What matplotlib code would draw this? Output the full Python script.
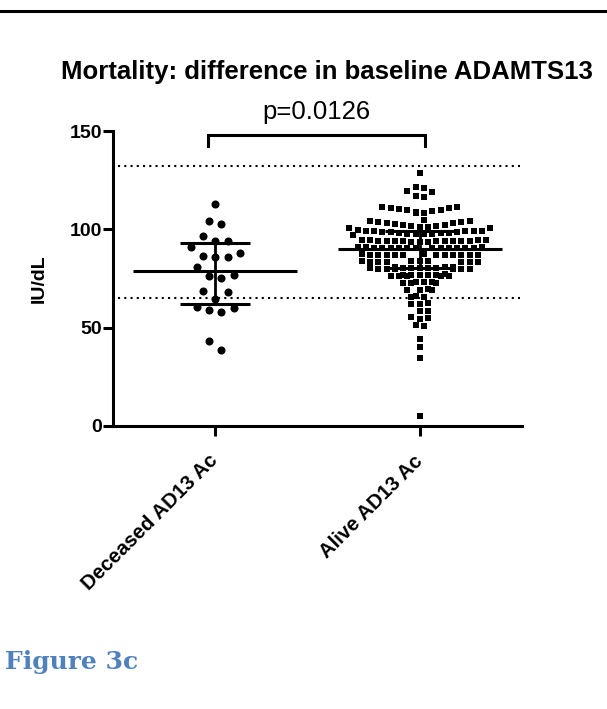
import numpy as np
import matplotlib
matplotlib.use("Agg")
import matplotlib.pyplot as plt
from matplotlib.lines import Line2D

W, H = 607, 709

groups = ["Deceased AD13 Ac", "Alive AD13 Ac"]

# ADAMTS13 activity, IU/dL
deceased = [112.9, 104.4, 102.7, 96.8, 94.2, 94.2, 91.2, 87.8, 86.4, 86.1,
            85.8, 81.0, 76.8, 76.3, 75.1, 68.8, 68.3, 64.7, 60.3, 59.8,
            59.0, 58.0, 43.4, 38.6]

alive = [128.5,
         121.3, 121.0,
         119.6, 118.8, 117.1, 116.3,
         111.6, 111.4, 111.1, 110.9, 110.4, 110.0, 109.6, 109.2, 108.8, 108.5, 108.2,
         104.7,
         104.2, 104.0, 103.8, 103.5, 103.2, 103.0, 102.7, 102.4, 102.1, 101.8,
         101.5, 101.3, 101.1, 100.9, 100.8,
         99.5, 99.4, 99.3, 99.2, 99.0, 98.9, 98.7, 98.5, 98.4, 98.2, 98.0, 97.9,
         97.7, 97.6, 97.5, 97.4, 97.3,
         94.6, 94.5, 94.5, 94.4, 94.3, 94.3, 94.2, 94.1, 94.1, 94.0, 94.0, 93.9,
         93.9, 93.8, 93.8, 93.8,
         90.9, 90.8, 90.8, 90.7, 90.6, 90.6, 90.5, 90.5, 90.4, 90.4, 90.4, 90.3,
         90.3, 90.3, 90.3,
         87.4, 87.3, 87.2, 87.2, 87.1, 87.0, 87.0, 86.9, 86.9, 86.9, 86.8, 86.8, 86.8,
         84.0, 83.9, 83.8, 83.7, 83.6, 83.5, 83.4, 83.4, 83.3, 83.3,
         80.8, 80.7, 80.6, 80.5, 80.4, 80.3, 80.2, 80.2, 80.1, 80.0, 80.0, 79.9,
         79.9, 79.8, 79.8,
         77.1, 77.0, 76.9, 76.8, 76.7, 76.6, 76.5, 76.4, 76.4, 76.3, 76.2,
         73.3, 73.1, 73.0, 72.9, 72.7, 72.6,
         69.6, 69.4, 69.2, 69.0,
         66.1, 65.8, 65.5,
         62.3, 62.0, 61.8,
         58.7, 58.3,
         55.3, 54.9, 54.6,
         51.2, 50.9,
         44.1, 40.0, 34.4, 5.1]

center_line = [79.0, 90.2]
bar_low = [61.9, 80.5]
bar_high = [93.2, 99.3]
ref_lines = [132, 65]
bracket_x = [-0.035, 1.025]
bracket_y = 148
p_label = "p=0.0126"
yticks = [0, 50, 100, 150]

plt.rcParams['font.family'] = ['Liberation Sans', 'DejaVu Sans']

fig = plt.figure(figsize=(W / 100, H / 100), dpi=100)
ax = fig.add_axes([113 / W, 283 / H, 409 / W, 295 / H])
ax.set_xlim(-0.5, 1.5)
ax.set_ylim(0, 150)

# pixels per data unit, used for the dot layout
sx = 409 / 2.0
sy = 295 / 150.0


def row_layout(values, step_px, row_px):
    # Prism-style scatter: values binned into rows, spread centre-out
    vals = np.asarray(values, float)
    h = row_px / sy
    order = np.argsort(vals, kind="stable")
    rows, cur = [], [order[0]]
    for i in order[1:]:
        if vals[i] - vals[cur[0]] < h:
            cur.append(i)
        else:
            rows.append(cur)
            cur = [i]
    rows.append(cur)
    offs = np.zeros(len(vals))
    for row in rows:
        n = len(row)
        start = 0.0 if n % 2 else 0.5
        for k, i in enumerate(row):
            if n % 2:
                slot = ((k + 1) // 2) * (1 if k % 2 else -1) if k else 0.0
            else:
                slot = (start + k // 2) * (1 if k % 2 == 0 else -1)
            offs[i] = slot * step_px / sx
    return offs


off_d = row_layout(deceased, 12.3, 12.4)
off_a = row_layout(alive, 8.3, 6.9)

ax.scatter(0 + off_d, deceased, marker="o", s=5.8 ** 2, c="black",
           linewidths=0, clip_on=False, zorder=3)
ax.scatter(1 + off_a, alive, marker="s", s=5.0 ** 2, c="black",
           linewidths=0, clip_on=False, zorder=3)

pos = np.arange(len(groups))
ax.hlines(center_line, pos - 0.4, pos + 0.4, color="black", lw=2.2, zorder=4)
ax.vlines(pos, bar_low, bar_high, color="black", lw=2.0, zorder=4)
ax.hlines(bar_low, pos - 0.17, pos + 0.17, color="black", lw=2.2, zorder=4)
ax.hlines(bar_high, pos - 0.17, pos + 0.17, color="black", lw=2.2, zorder=4)

for r in ref_lines:
    ax.axhline(r, xmin=0.012, xmax=0.995, color="black", lw=1.5,
               linestyle=(0, (1, 2)), zorder=2)

ax.plot([bracket_x[0], bracket_x[0], bracket_x[1], bracket_x[1]],
        [bracket_y - 5.5, bracket_y, bracket_y, bracket_y - 5.5],
        color="black", lw=2.2, clip_on=False, solid_joinstyle="miter")
ax.text(0.495, 159.6, p_label, ha="center", va="center", fontsize=18.5)

for side in ["top", "right"]:
    ax.spines[side].set_visible(False)
for side in ["left", "bottom"]:
    ax.spines[side].set_linewidth(2.2)

ax.set_yticks(yticks)
ax.set_xticks(pos)
ax.set_xticklabels(groups, rotation=45, ha="right", va="center",
                   rotation_mode="anchor", fontweight="bold", fontsize=14.7)
ax.tick_params(direction="out", length=7, width=2.2, labelsize=14)
ax.tick_params(axis="x", pad=16, labelsize=14.7)
ax.tick_params(axis="y", pad=1)
for lbl in ax.get_yticklabels():
    lbl.set_fontweight("bold")

ax.set_ylabel("IU/dL", fontsize=14, fontweight="bold")
ax.yaxis.set_label_coords(-0.16, 0.5)

fig.text(327 / W, 1 - 72 / H, "Mortality: difference in baseline ADAMTS13",
         ha="center", va="center", fontsize=18.5, fontweight="bold")
fig.text(5 / W, 1 - 662 / H, "Figure 3c", ha="left", va="center",
         fontsize=18, fontweight="bold", family="DejaVu Serif", color="#4F81BD")
fig.add_artist(Line2D([0, 1], [1 - 11 / H] * 2, transform=fig.transFigure,
                      color="black", lw=2.2))

fig.savefig("out.png", dpi=100)
